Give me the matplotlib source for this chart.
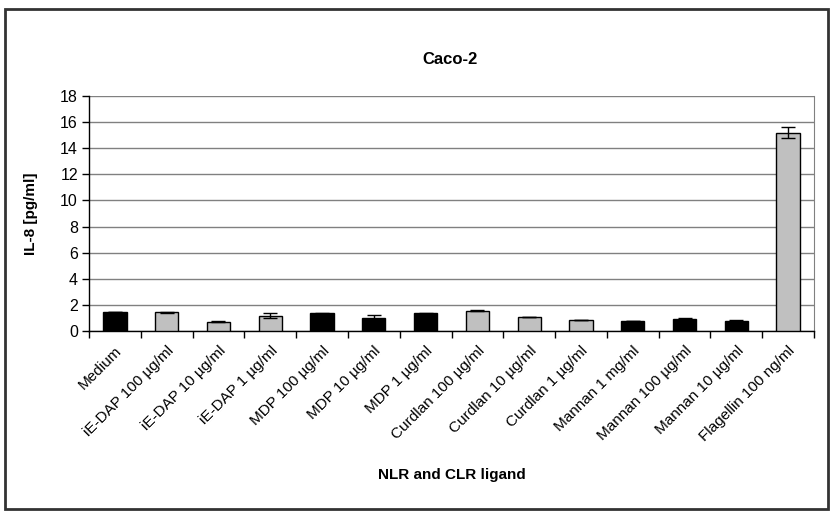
import matplotlib
matplotlib.use("Agg")
import matplotlib.pyplot as plt
import numpy as np
from matplotlib.patches import Rectangle

plt.rcParams['font.family'] = ['Liberation Sans', 'DejaVu Sans']

# IL-8 response per ligand
ligands = ['Medium', 'iE-DAP 100 µg/ml', 'iE-DAP 10 µg/ml', 'iE-DAP 1 µg/ml',
           'MDP 100 µg/ml', 'MDP 10 µg/ml', 'MDP 1 µg/ml', 'Curdlan 100 µg/ml',
           'Curdlan 10 µg/ml', 'Curdlan 1 µg/ml', 'Mannan 1 mg/ml',
           'Mannan 100 µg/ml', 'Mannan 10 µg/ml', 'Flagellin 100 ng/ml']
il8 = [1.47, 1.42, 0.71, 1.17, 1.35, 0.97, 1.35, 1.55, 1.07, 0.84, 0.74, 0.89, 0.76, 15.2]
il8_err = [0.0, 0.05, 0.05, 0.18, 0.02, 0.23, 0.02, 0.03, 0.03, 0.03, 0.0, 0.08, 0.06, 0.4]
bar_colors = ['black', '#c0c0c0', '#c0c0c0', '#c0c0c0', 'black', 'black', 'black',
              '#c0c0c0', '#c0c0c0', '#c0c0c0', 'black', 'black', 'black', '#c0c0c0']

fig = plt.figure(figsize=(8.3, 5.13), dpi=100)
ax = fig.add_axes([89 / 830, 1 - 331 / 513, 725 / 830, 235 / 513])

x = np.arange(len(ligands))
ax.bar(x, il8, width=0.45, color=bar_colors, edgecolor='black', linewidth=1, zorder=3)
ax.errorbar(x, il8, yerr=il8_err, fmt='none', ecolor='black', elinewidth=1,
            capsize=5, capthick=1, zorder=4)

ax.set_xlim(-0.5, len(ligands) - 0.5)
ax.set_ylim(0, 18)
ax.set_yticks(np.arange(0, 19, 2))
ax.yaxis.grid(True, color='#808080', linewidth=1)
ax.set_axisbelow(True)

ax.set_xticks(x)
ax.set_xticklabels(ligands, rotation=45, ha='right', rotation_mode='anchor', fontsize=11)
ax.set_xticks(np.arange(-0.5, len(ligands), 1), minor=True)
ax.tick_params(axis='x', which='major', length=0, pad=9)
ax.tick_params(axis='x', which='minor', length=5, width=1, direction='out')
ax.tick_params(axis='y', length=5, width=1, direction='out', labelsize=11.5, pad=3)

ax.spines['top'].set_visible(False)
ax.spines['right'].set_color('#808080')
ax.spines['left'].set_linewidth(1)
ax.spines['bottom'].set_linewidth(1)

ax.set_ylabel('IL-8 [pg/ml]', fontsize=11, fontweight='bold')
ax.set_xlabel('NLR and CLR ligand', fontsize=11, fontweight='bold')
ax.xaxis.set_label_coords(0.5, (331 - 468) / 235)
ax.yaxis.set_label_coords((38 - 89) / 725, 0.5)
fig.text(450 / 830, 1 - 60 / 513, 'Caco-2', fontsize=12, fontweight='bold',
         ha='center', va='center')

# chart border
fig.patches.append(Rectangle((5 / 830, 1 - 509 / 513), 823 / 830, 500 / 513,
                             transform=fig.transFigure, fill=False,
                             edgecolor='#333333', linewidth=2))

fig.savefig('out.png', dpi=100)
